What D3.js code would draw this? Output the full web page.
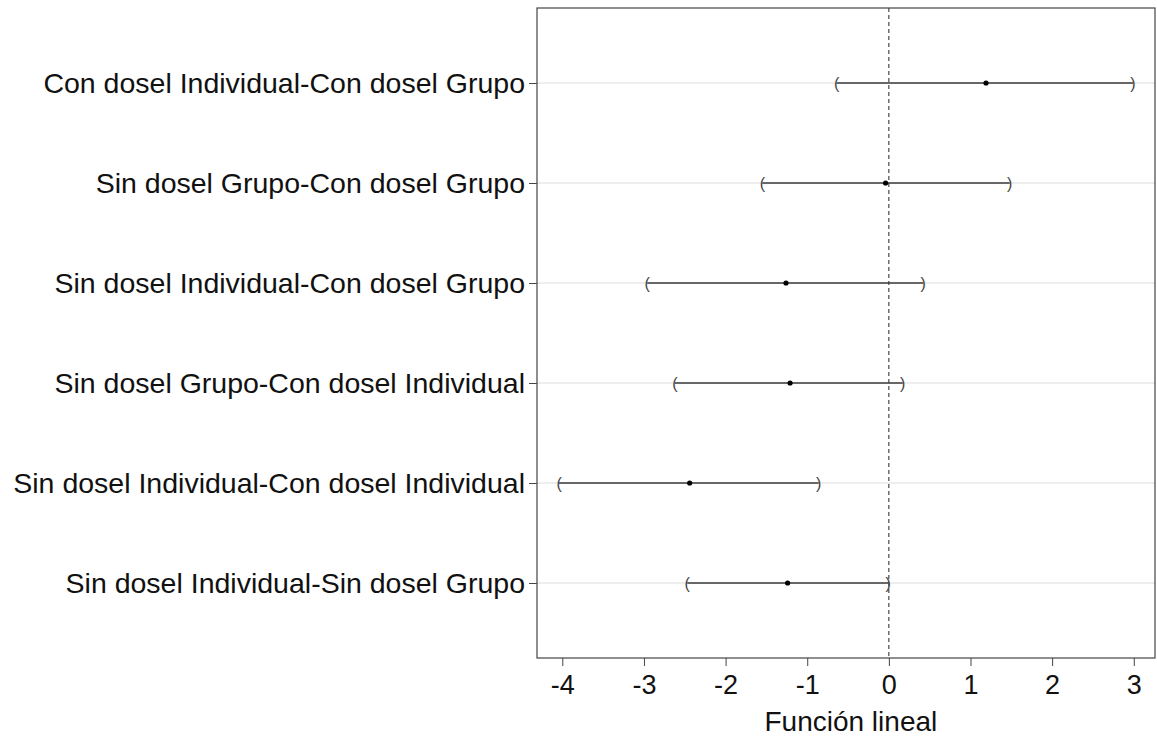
<!DOCTYPE html>
<html><head><meta charset="utf-8">
<script src="https://cdn.jsdelivr.net/npm/d3@7/dist/d3.min.js"></script>
<style>body{margin:0;background:#fff}svg{display:block}text{font-family:"Liberation Sans",Arial,sans-serif}</style>
</head><body>
<script>
const comparisons = [
  "Con dosel Individual-Con dosel Grupo",
  "Sin dosel Grupo-Con dosel Grupo",
  "Sin dosel Individual-Con dosel Grupo",
  "Sin dosel Grupo-Con dosel Individual",
  "Sin dosel Individual-Con dosel Individual",
  "Sin dosel Individual-Sin dosel Grupo"
];
const estimates = [1.19, -0.04, -1.26, -1.21, -2.44, -1.24];
const lowers    = [-0.64, -1.55, -2.96, -2.62, -4.04, -2.47];
const uppers    = [2.99, 1.48, 0.42, 0.17, -0.86, -0.01];
const xTicks = [-4, -3, -2, -1, 0, 1, 2, 3];
const xTitle = "Función lineal";

const W = 1157, H = 740;
const m = {left: 537, right: 2, top: 8, bottom: 82};
const svg = d3.select("body").append("svg").attr("width", W).attr("height", H);

const x = d3.scaleLinear().domain([-4.31, 3.26]).range([m.left, W - m.right]);
const y = d3.scalePoint().domain(comparisons).range([m.top, H - m.bottom]).padding(0.75);

// grid lines
svg.append("g").selectAll("line").data(comparisons).join("line")
  .attr("x1", m.left).attr("x2", W - m.right)
  .attr("y1", d => y(d)).attr("y2", d => y(d))
  .attr("stroke", "#dcdcdc").attr("stroke-width", 1);

// zero reference line
svg.append("line")
  .attr("x1", x(0)).attr("x2", x(0))
  .attr("y1", m.top).attr("y2", H - m.bottom)
  .attr("stroke", "#222").attr("stroke-width", 1).attr("stroke-dasharray", "4,3");

const rows = comparisons.map((c, i) => ({c, est: estimates[i], lo: lowers[i], hi: uppers[i]}));

const g = svg.append("g");
g.selectAll("line.ci").data(rows).join("line").attr("class", "ci")
  .attr("x1", d => x(d.lo)).attr("x2", d => x(d.hi))
  .attr("y1", d => y(d.c)).attr("y2", d => y(d.c))
  .attr("stroke", "#3a3a3a").attr("stroke-width", 1.4);
g.selectAll("text.lb").data(rows).join("text").attr("class", "lb")
  .attr("x", d => x(d.lo)).attr("y", d => y(d.c))
  .attr("text-anchor", "middle").attr("dy", "0.35em")
  .attr("font-size", 16).attr("fill", "#444").text("(");
g.selectAll("text.rb").data(rows).join("text").attr("class", "rb")
  .attr("x", d => x(d.hi)).attr("y", d => y(d.c))
  .attr("text-anchor", "middle").attr("dy", "0.35em")
  .attr("font-size", 16).attr("fill", "#444").text(")");
g.selectAll("circle").data(rows).join("circle")
  .attr("cx", d => x(d.est)).attr("cy", d => y(d.c)).attr("r", 2.6)
  .attr("fill", "#000");

// frame
svg.append("rect").attr("x", m.left).attr("y", m.top)
  .attr("width", W - m.right - m.left).attr("height", H - m.bottom - m.top)
  .attr("fill", "none").attr("stroke", "#444").attr("stroke-width", 1.2);

// x axis
const xa = svg.append("g").attr("transform", `translate(0,${H - m.bottom})`)
  .call(d3.axisBottom(x).tickValues(xTicks).tickSize(8).tickPadding(9).tickFormat(d3.format("d")));
xa.select(".domain").remove();
xa.selectAll("line").attr("stroke", "#444");
xa.selectAll("text").attr("font-size", 27).attr("fill", "#111")
  .text(d => String(d).replace("\u2212", "-"));

// y axis
const ya = svg.append("g").attr("transform", `translate(${m.left},0)`)
  .call(d3.axisLeft(y).tickSize(8).tickPadding(4));
ya.select(".domain").remove();
ya.selectAll("line").attr("stroke", "#444");
ya.selectAll("text").attr("font-size", 28.5).attr("fill", "#111");

svg.append("text").attr("x", x(0) - 38).attr("y", H - 9)
  .attr("text-anchor", "middle").attr("font-size", 28).attr("fill", "#111").text(xTitle);
</script>
</body></html>
